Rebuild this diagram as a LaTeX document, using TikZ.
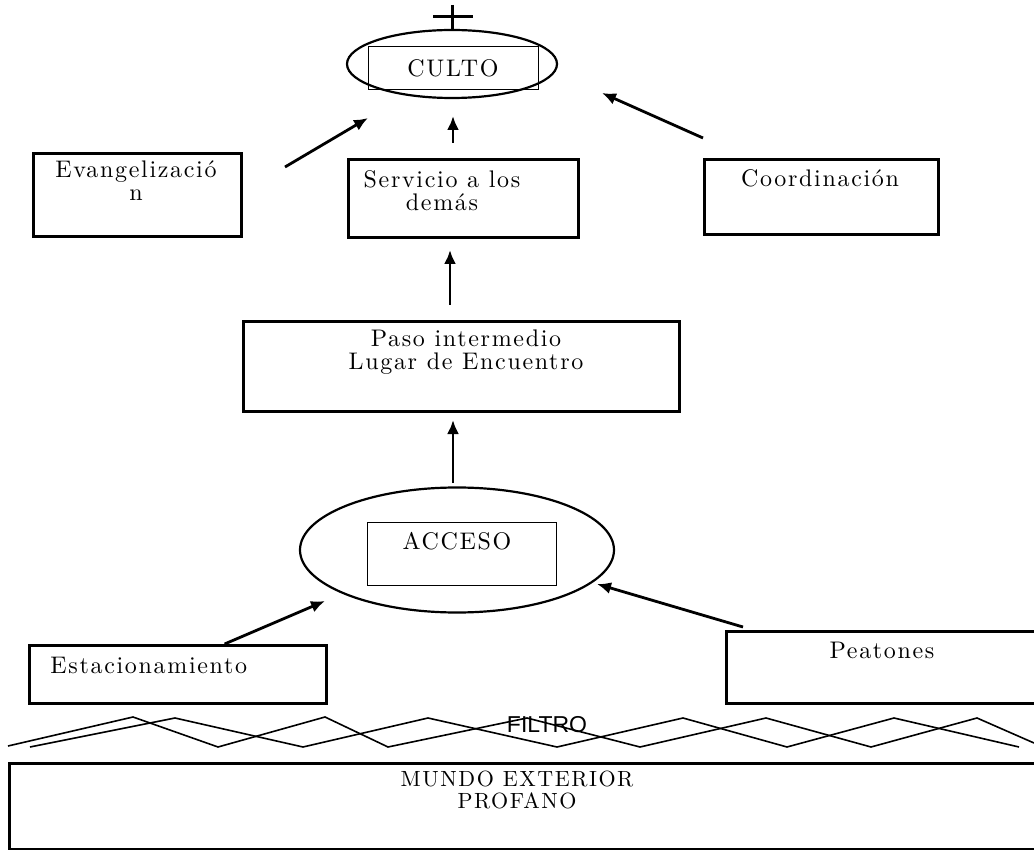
\documentclass[tikz,border=0pt]{standalone}
\usepackage{fontspec}
\newfontfamily\filtrofont{Liberation Sans}
\newfontfamily\cajafont[LetterSpace=7]{lmroman10-regular.otf}
\usepackage{tikz}
\usetikzlibrary{arrows.meta, positioning, calc, shapes.geometric}

\begin{document}
\begin{tikzpicture}[x=0.5pt, y=-0.5pt,
	caja/.style={rectangle, draw, line width=1.3pt, anchor=north west, inner sep=0pt},
	marco/.style={rectangle, draw, line width=0.5pt, inner sep=0pt},
	ovalo/.style={ellipse, draw, line width=1.1pt, inner sep=0pt},
	texto/.style={font=\cajafont\fontsize{12}{11.5}\selectfont, align=center, inner sep=0pt},
	arrow/.style={-{Latex[length=7pt, width=6pt]}, line width=1.4pt},
	zigzag/.style={line width=0.8pt},
	]
	\useasboundingbox (0,0) rectangle (1034,850);
	
	% ---- Culto (top) ----
	\node[ovalo, minimum width=105pt, minimum height=34pt] (culto) at (452,64) {};
	\node[marco, texto, minimum width=85pt, minimum height=21.5pt] (cultobox) at (453,68.5) {CULTO};
	\draw[line width=1.5pt] (452,5) -- (culto.north);
	\draw[line width=1.5pt] (433,17) -- (473,17);
	
	\node[caja, minimum width=104pt, minimum height=41.5pt] (evang) at (32,152) {};
	\node[texto] (evangtxt) at (136,181) {Evangelizació\\n};
	\node[caja, minimum width=115pt, minimum height=39pt] (servicio) at (347,158) {};
	\node[texto] (serviciotxt) at (442,191) {Servicio a los\\demás};
	\node[caja, minimum width=117pt, minimum height=37.5pt] (coord) at (703,158) {};
	\node[texto] (coordtxt) at (820,178) {Coordinación};
	
	\coordinate (evangtail) at (285,167);
	\coordinate (evanghead) at (368,118);
	\coordinate (serviciotail) at (453,143);
	\coordinate (serviciohead) at (453,116);
	\coordinate (coordtail) at (703,138);
	\coordinate (coordhead) at (602,93);
	\draw[arrow] (evangtail) -- (evanghead);
	\draw[arrow] (serviciotail) -- (serviciohead);
	\draw[arrow] (coordtail) -- (coordhead);
	
	% ---- Paso intermedio ----
	\node[caja, minimum width=218pt, minimum height=45pt] (paso) at (242,320) {};
	\node[texto] (pasotxt) at (466,352) {Paso intermedio\\Lugar de Encuentro};
	\coordinate (pasotail) at (450,305);
	\coordinate (pasohead) at (450,250);
	\draw[arrow] (pasotail) -- (pasohead);
	
	% ---- Acceso ----
	\node[ovalo, minimum width=157pt, minimum height=62.5pt] (acceso) at (457,550) {};
	\node[marco, minimum width=94.5pt, minimum height=31.5pt] (accesobox) at (461.5,553.5) {};
	\node[texto] (accesotxt) at (457,541) {ACCESO};
	\coordinate (accesotail) at (453,483);
	\coordinate (accesohead) at (453,420);
	\draw[arrow] (accesotail) -- (accesohead);
	
	\node[caja, minimum width=148.5pt, minimum height=29pt] (estac) at (28,644) {};
	\node[texto, anchor=west] (estactxt) at (50,665) {Estacionamiento};
	\node[caja, minimum width=160pt, minimum height=36pt] (peatones) at (725,630) {};
	\node[texto] (peatonestxt) at (882,650) {Peatones};
	\coordinate (estachead) at (325,601);
	\coordinate (peatoneshead) at (597,584);
	\draw[arrow] (estac.north east) ++(-103,0) coordinate (estactail) -- (estachead);
	\draw[arrow] (peatones.north west) ++(18,-3) coordinate (peatonestail) -- (peatoneshead);
	
	% ---- Filtro ----
	\draw[zigzag] (8,746) -- (133,717) -- (218,747) -- (325,717) -- (388,747) -- (527,718)
		-- (640,747) -- (766,718) -- (871,747) -- (977,718) -- (1034,743);
	\draw[zigzag] (30,747) -- (175,718) -- (303,747) -- (428,718) -- (557,747) -- (683,718)
		-- (787,747) -- (894,718) -- (1019,747);
	\node[font=\filtrofont\fontsize{11.5}{12}\selectfont, inner sep=0pt] (filtro) at (547,725) {FILTRO};
	
	% ---- Mundo exterior ----
	\node[caja, minimum width=520pt, minimum height=43pt] (mundo) at (8,762) {};
	\node[texto, font=\cajafont\fontsize{11}{11}\selectfont] (mundotxt) at (517,790) {MUNDO EXTERIOR\\PROFANO};
	
\end{tikzpicture}
\end{document}
